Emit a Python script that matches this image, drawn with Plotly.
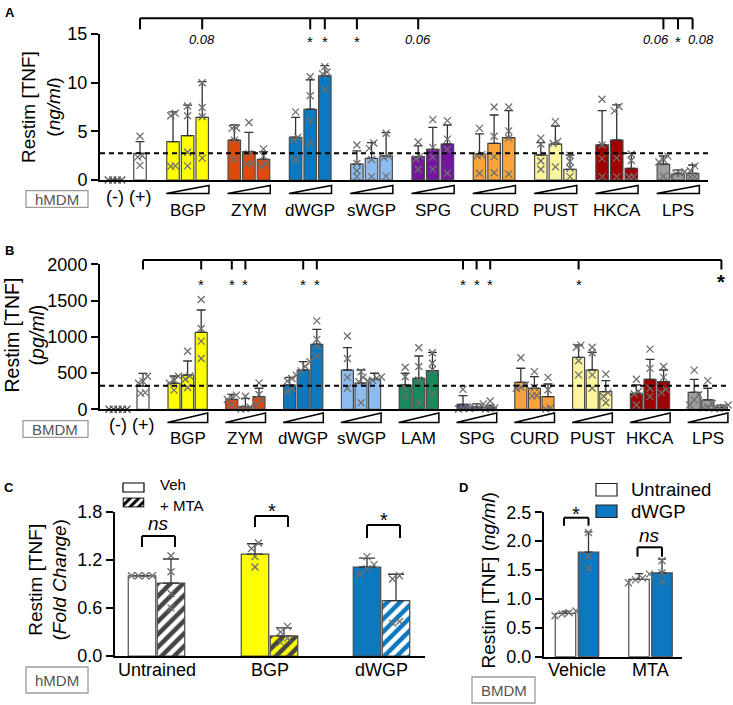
import plotly.graph_objects as go

W, H = 733, 705
FONT = "Liberation Sans, Arial, Helvetica, sans-serif"
PTCOL = "#6e6e6e"
NEGCOL = "#555555"
ERRCOL = "#333333"
EDGE = "#4a4a4a"

# ======================= DATA =======================
# ---- Panel A : hMDM, Restim TNF (ng/ml)
A_groups = ["BGP", "ZYM", "dWGP", "sWGP", "SPG", "CURD", "PUST", "HKCA", "LPS"]
A_colors = ["#FFFF00", "#DD4A0B", "#0B78BF", "#8DBDF0", "#74169B",
            "#F9A33C", "#FCF59E", "#A00000", "#9E9E9E"]
A_ctrl_labels = ["(-)", "(+)"]
A_ctrl_means = [0.0, 2.74]
A_ctrl_err = [0.0, 1.20]
A_ctrl_points = [[0, 0, 0, 0], [4.5, 2.5, 2.35, 1.5]]
A_means = [
    [3.94, 4.55, 6.44],
    [4.11, 2.91, 2.12],
    [4.39, 7.27, 10.69],
    [1.64, 2.23, 2.47],
    [2.40, 3.15, 3.70],
    [2.67, 3.77, 4.35],
    [2.57, 3.70, 1.10],
    [3.60, 4.11, 1.20],
    [1.64, 0.62, 0.69],
]
A_err = [
    [3.06, 3.15, 3.66],
    [1.54, 1.99, 0.78],
    [2.05, 3.03, 1.06],
    [1.36, 1.61, 2.39],
    [1.10, 2.26, 1.95],
    [2.06, 2.91, 2.77],
    [1.27, 1.85, 1.47],
    [3.52, 3.60, 1.54],
    [0.83, 0.41, 0.85],
]
A_points = [
    [[6.6, 6.85, 1.45, 1.4], [7.6, 6.6, 2.85, 1.45], [10.0, 7.45, 6.5, 2.25]],
    [[5.3, 5.35, 4.1, 2.1], [5.9, 2.7, 1.7, 1.65], [3.2, 2.45, 1.7, 1.4]],
    [[7.0, 4.4, 4.15, 2.1], [10.6, 8.65, 6.1, 3.8], [11.65, 11.1, 10.9, 9.3]],
    [[3.6, 1.7, 0.95, 0.35], [3.8, 3.25, 2.1, 0.35], [4.8, 2.45, 2.3, 0.4]],
    [[3.9, 2.45, 2.15, 1.1], [6.2, 3.35, 2.35, 1.1], [6.1, 4.2, 3.15, 0.7]],
    [[5.3, 2.6, 2.5, 0.7], [7.5, 4.5, 2.4, 0.75], [7.5, 5.05, 4.3, 0.6]],
    [[4.3, 3.7, 1.95, 1.1], [6.0, 3.95, 3.75, 1.35], [2.55, 1.9, 1.2, 0.35]],
    [[8.3, 3.6, 2.2, 0.35], [7.55, 7.1, 2.25, 0.35], [2.65, 2.0, 0.35, 0.3]],
    [[2.45, 2.1, 1.85, 0.4], [0.85, 0.7, 0.68, 0.35], [1.45, 0.95, 0.35, 0.3]],
]
A_baseline = 2.75
A_yticks = [0, 5, 10, 15]
A_sig = [("BGP", 2, "0.08"), ("dWGP", 1, "*"), ("dWGP", 2, "*"), ("sWGP", 0, "*"),
         ("SPG", 0, "0.06"), ("LPS", 0, "0.06"), ("LPS", 1, "*"), ("LPS", 2, "0.08")]

# ---- Panel B : BMDM, Restim TNF (pg/ml)
B_groups = ["BGP", "ZYM", "dWGP", "sWGP", "LAM", "SPG", "CURD", "PUST", "HKCA", "LPS"]
B_colors = ["#FFFF00", "#DD4A0B", "#0B78BF", "#8DBDF0", "#17895B", "#283C8E",
            "#F9A33C", "#FCF59E", "#A00000", "#9E9E9E"]
B_ctrl_labels = ["(-)", "(+)"]
B_ctrl_means = [0.0, 321]
B_ctrl_err = [0.0, 175]
B_ctrl_points = [[0, 0, 0, 0, 0], [455, 385, 360, 230, 220]]
B_means = [
    [359, 473, 1062],
    [138, 36, 174],
    [335, 542, 897],
    [542, 360, 414],
    [335, 428, 533],
    [69, 36, 27],
    [372, 290, 174],
    [717, 542, 243],
    [219, 414, 381],
    [234, 129, 27],
]
B_err = [
    [100, 193, 308],
    [69, 116, 116],
    [106, 115, 206],
    [308, 182, 83],
    [162, 307, 253],
    [119, 40, 30],
    [194, 160, 175],
    [170, 244, 152],
    [116, 276, 161],
    [180, 161, 30],
]
B_points = [
    [[455, 405, 360, 265], [800, 460, 415, 300], [1515, 1115, 940, 700]],
    [[195, 165, 135, 60], [180, 30, 10, 5], [365, 205, 125, 60]],
    [[425, 390, 290, 245], [655, 590, 530, 470], [1220, 965, 875, 735]],
    [[1010, 700, 440, 290], [520, 440, 380, 90], [445, 430, 400, 390]],
    [[580, 450, 300, 175], [850, 590, 405, 90], [780, 635, 545, 210]],
    [[275, 30, 10, 5], [75, 30, 20, 10], [115, 20, 10, 5]],
    [[710, 335, 305, 290], [520, 300, 190, 185], [440, 270, 20, 5]],
    [[885, 855, 670, 475], [855, 780, 475, 290], [485, 230, 180, 90]],
    [[415, 250, 210, 60], [830, 565, 290, 175], [590, 440, 275, 230]],
    [[540, 200, 130, 60], [395, 80, 30, 20], [60, 25, 15, 10]],
]
B_baseline = 325
B_yticks = [0, 500, 1000, 1500, 2000]
B_sig = [("BGP", 2, "*"), ("ZYM", 0, "*"), ("ZYM", 1, "*"), ("dWGP", 1, "*"),
         ("dWGP", 2, "*"), ("SPG", 0, "*"), ("SPG", 1, "*"), ("SPG", 2, "*"),
         ("PUST", 0, "*"), ("LPS", 2, "*")]

# ---- Panel C : hMDM, fold change, Veh vs + MTA
C_groups = ["Untrained", "BGP", "dWGP"]
C_colors = ["#FFFFFF", "#FFFF00", "#0B78BF"]
C_veh_mean = [1.00, 1.27, 1.11]
C_veh_err = [0.0, 0.13, 0.11]
C_mta_mean = [0.91, 0.25, 0.69]
C_mta_err = [0.30, 0.10, 0.33]
C_veh_pts = [[1.0, 1.0, 1.0, 1.0], [1.41, 1.34, 1.24, 1.11], [1.24, 1.14, 1.09, 1.02]]
C_mta_pts = [[1.25, 1.05, 0.78, 0.60], [0.37, 0.30, 0.22, 0.17], [1.0, 0.96, 0.43, 0.41]]
C_sig = ["ns", "*", "*"]
C_yticks = [0.0, 0.6, 1.2, 1.8]
C_legend = ["Veh", "+ MTA"]

# ---- Panel D : BMDM, ng/ml, Untrained vs dWGP
D_groups = ["Vehicle", "MTA"]
D_colors = ["#FFFFFF", "#0B78BF"]
D_untr_mean = [0.75, 1.34]
D_untr_err = [0.04, 0.10]
D_dwgp_mean = [1.81, 1.45]
D_dwgp_err = [0.35, 0.24]
D_untr_pts = [[0.79, 0.76, 0.74, 0.71], [1.43, 1.36, 1.33, 1.28]]
D_dwgp_pts = [[2.15, 1.74, 1.53], [1.66, 1.45, 1.30]]
D_sig = ["*", "ns"]
D_yticks = [0.0, 0.5, 1.0, 1.5, 2.0, 2.5]
D_legend = ["Untrained", "dWGP"]

# ======================= HELPERS =======================
def px(x):
    return x / W


def py(y):
    return 1 - y / H


fig = go.Figure()
shapes = []
annotations = []


def ann(x, y, text, size=17, xref="paper", yref="paper", color="black",
        xanchor="center", yanchor="middle", **kw):
    d = dict(x=x, y=y, text=text, xref=xref, yref=yref, showarrow=False,
             font=dict(family=FONT, size=size, color=color),
             xanchor=xanchor, yanchor=yanchor)
    d.update(kw)
    annotations.append(d)


def line(x0, y0, x1, y1, xref="paper", width=2, color="black", dash=None, yref="paper"):
    d = dict(type="line", x0=x0, y0=y0, x1=x1, y1=y1, xref=xref, yref=yref,
             line=dict(color=color, width=width))
    if dash:
        d["line"]["dash"] = dash
    shapes.append(d)


def jitter(vals, thresh, spread):
    order = sorted(range(len(vals)), key=lambda k: vals[k])
    offs = [0.0] * len(vals)
    clusters, cur = [], [order[0]]
    for k in order[1:]:
        if vals[k] - vals[cur[-1]] < thresh:
            cur.append(k)
        else:
            clusters.append(cur)
            cur = [k]
    clusters.append(cur)
    for cl in clusters:
        n = len(cl)
        for j, k in enumerate(cl):
            offs[k] = (j - (n - 1) / 2) * spread
    return offs


HATCH = dict(shape="/", fgcolor="black", fgopacity=1, size=9, solidity=0.5,
             fillmode="overlay")


def add_bars(xa, ya, xs, ys, es, cs, bw, capw, pattern=None):
    marker = dict(color=cs, line=dict(color=EDGE, width=1.2))
    if pattern:
        marker["pattern"] = pattern
    fig.add_trace(go.Bar(
        x=xs, y=ys, width=bw, marker=marker, xaxis=xa, yaxis=ya,
        error_y=dict(type="data", symmetric=False, array=es, arrayminus=[0] * len(es),
                     color=ERRCOL, thickness=1.3, width=capw),
        showlegend=False, hoverinfo="skip"))


def add_points(xa, ya, sx, sy, sc, size=7):
    fig.add_trace(go.Scatter(
        x=sx, y=sy, mode="markers", xaxis=xa, yaxis=ya, cliponaxis=False,
        marker=dict(symbol="x-thin", size=size, color=sc, line=dict(color=sc, width=1.3)),
        showlegend=False, hoverinfo="skip"))


def dose_panel(xa, ya, ctrl_x, ctrl_means, ctrl_err, ctrl_pts, groups, colors,
               means, errs, pts, first, gap, step, bw, thresh, spread):
    xs, ys, es, cs = [], [], [], []
    sx, sy, sc = [], [], []
    centers = {}
    for i in range(len(ctrl_x)):
        xs.append(ctrl_x[i]); ys.append(ctrl_means[i]); es.append(ctrl_err[i])
        cs.append("#FFFFFF")
        for v, o in zip(ctrl_pts[i], jitter(ctrl_pts[i], thresh, spread)):
            sx.append(ctrl_x[i] + o); sy.append(v)
            sc.append(NEGCOL if i == 0 else PTCOL)
    for g, name in enumerate(groups):
        for d in range(3):
            cx = first + g * gap + d * step
            centers[(name, d)] = cx
            xs.append(cx); ys.append(means[g][d]); es.append(errs[g][d])
            cs.append(colors[g])
            p = pts[g][d]
            for v, o in zip(p, jitter(p, thresh, spread)):
                sx.append(cx + o); sy.append(v); sc.append(PTCOL)
    add_bars(xa, ya, xs, ys, es, cs, bw, 4.5)
    add_points(xa, ya, sx, sy, sc)
    return centers


# ======================= PANEL A =======================
A_ctrl_x = [115, 140]
A_first, A_gap, A_step, A_bw = 173, 61.3, 14.6, 12.5
cA = dose_panel("x", "y", A_ctrl_x, A_ctrl_means, A_ctrl_err, A_ctrl_points,
                A_groups, A_colors, A_means, A_err, A_points,
                A_first, A_gap, A_step, A_bw, 0.55, 4.5)

# ======================= PANEL B =======================
B_ctrl_x = [118, 143]
B_first, B_gap, B_step, B_bw = 174, 57.8, 13.6, 12
cB = dose_panel("x2", "y2", B_ctrl_x, B_ctrl_means, B_ctrl_err, B_ctrl_points,
                B_groups, B_colors, B_means, B_err, B_points,
                B_first, B_gap, B_step, B_bw, 75, 4.5)

# ======================= PANEL C =======================
C_centers = [156.5, 269.5, 381.5]
C_off, C_bw = 14.5, 27.5
veh_x = [c - C_off for c in C_centers]
mta_x = [c + C_off for c in C_centers]
add_bars("x3", "y3", veh_x, C_veh_mean, C_veh_err, C_colors, C_bw, 8)
add_bars("x3", "y3", mta_x, C_mta_mean, C_mta_err, C_colors, C_bw, 8, pattern=HATCH)
sx, sy = [], []
for xs_, pts_ in ((veh_x, C_veh_pts), (mta_x, C_mta_pts)):
    for cx, p in zip(xs_, pts_):
        for v, o in zip(p, jitter(p, 0.075, 7)):
            sx.append(cx + o); sy.append(v)
add_points("x3", "y3", sx, sy, PTCOL)

# ======================= PANEL D =======================
D_centers = [577, 650.5]
D_off, D_bw = 11.5, 20.5
untr_x = [c - D_off for c in D_centers]
dwgp_x = [c + D_off for c in D_centers]
add_bars("x4", "y4", untr_x, D_untr_mean, D_untr_err, [D_colors[0]] * 2, D_bw, 4)
add_bars("x4", "y4", dwgp_x, D_dwgp_mean, D_dwgp_err, [D_colors[1]] * 2, D_bw, 4)
sx, sy = [], []
for xs_, pts_ in ((untr_x, D_untr_pts), (dwgp_x, D_dwgp_pts)):
    for cx, p in zip(xs_, pts_):
        for v, o in zip(p, jitter(p, 0.1, 7)):
            sx.append(cx + o); sy.append(v)
add_points("x4", "y4", sx, sy, PTCOL)

# legend swatch for hatched "+ MTA" (panel C)
fig.add_trace(go.Bar(
    x=[1], y=[0], orientation="h", width=1, xaxis="x5", yaxis="y5",
    marker=dict(color="#FFFFFF", line=dict(color="black", width=1.2),
                pattern=dict(HATCH, size=6)),
    showlegend=False, hoverinfo="skip"))

# ======================= DECORATIONS =======================
line(0, A_baseline, 1, A_baseline, xref="x domain", yref="y", width=1.8, dash="5px,4px")
line(0, B_baseline, 1, B_baseline, xref="x2 domain", yref="y2", width=1.8, dash="5px,4px")


def ramps(centers, groups, xref, bw, ytop, ybot, ylab, size):
    for name in groups:
        x0 = centers[(name, 0)] - bw / 2 - 0.5
        x1 = centers[(name, 2)] + bw / 2 + 0.5
        shapes.append(dict(type="path", xref=xref, yref="paper",
                           path=f"M {x0},{py(ybot)} L {x1},{py(ytop)} L {x1},{py(ybot)} Z",
                           line=dict(color="black", width=1.5), fillcolor="white"))
        ann(centers[(name, 1)], py(ylab), name, size=size, xref=xref)


ramps(cA, A_groups, "x", A_bw, 185.5, 193.5, 210, 17)
ramps(cB, B_groups, "x2", B_bw, 413, 422.5, 438, 17)
for cx, lab in zip(A_ctrl_x, A_ctrl_labels):
    ann(cx, py(197), lab, size=18, xref="x")
for cx, lab in zip(B_ctrl_x, B_ctrl_labels):
    ann(cx, py(425), lab, size=18, xref="x2")


def sig_bracket(centers, sig, left_x, xref, ytop, yleg):
    right = max(centers[(s[0], s[1])] for s in sig)
    line(left_x, py(ytop), right, py(ytop), xref=xref)
    line(left_x, py(ytop), left_x, py(yleg), xref=xref)
    for name, d, lab in sig:
        cx = centers[(name, d)]
        line(cx, py(ytop), cx, py(yleg), xref=xref)


sig_bracket(cA, A_sig, A_ctrl_x[1], "x", 18.3, 29.3)
for name, d, lab in A_sig:
    cx = cA[(name, d)]
    if lab == "*":
        ann(cx, py(41.5), "*", size=15, xref="x")
    else:
        shift = 0
        if name == "LPS" and d == 0:
            shift = -7
        if name == "LPS" and d == 2:
            shift = 8
        ann(cx, py(39.5), f"<i>{lab}</i>", size=13, xref="x", xshift=shift)

sig_bracket(cB, B_sig, B_ctrl_x[1], "x2", 260, 269.5)
for name, d, lab in B_sig:
    cx = cB[(name, d)]
    last = (name == B_sig[-1][0] and d == B_sig[-1][1])
    if last:
        ann(cx, py(282), "<b>*</b>", size=20, xref="x2")
    else:
        ann(cx, py(284), "*", size=15, xref="x2")

# Panel C brackets
C_br = [(536, 547, 523.5), (516, 527, 511), (525, 538, 520)]
for i, (yb, yl, yt) in enumerate(C_br):
    x0 = veh_x[i]
    x1 = mta_x[i] + 4
    line(x0, py(yb), x1, py(yb), xref="x3")
    line(x0, py(yb), x0, py(yl), xref="x3")
    line(x1, py(yb), x1, py(yl), xref="x3")
    txt = "<i>ns</i>" if C_sig[i] == "ns" else "*"
    ann((x0 + x1) / 2, py(yt), txt, size=19 if C_sig[i] == "ns" else 20, xref="x3")
for cx, lab in zip(C_centers, C_groups):
    ann(cx, py(670), lab, size=18, xref="x3")

# Panel D brackets
D_br = [(517.7, 525.7, 514), (547.3, 556.7, 535.5)]
for i, (yb, yl, yt) in enumerate(D_br):
    x0 = untr_x[i] - 1.5
    x1 = dwgp_x[i]
    line(x0, py(yb), x1, py(yb), xref="x4")
    line(x0, py(yb), x0, py(yl), xref="x4")
    line(x1, py(yb), x1, py(yl), xref="x4")
    txt = "<i>ns</i>" if D_sig[i] == "ns" else "*"
    ann((x0 + x1) / 2, py(yt), txt, size=19 if D_sig[i] == "ns" else 20, xref="x4")
for cx, lab in zip(D_centers, D_groups):
    ann(cx, py(670), lab, size=18, xref="x4")

# Legends
shapes.append(dict(type="rect", xref="paper", yref="paper", x0=px(123), x1=px(144),
                   y0=py(492), y1=py(483), line=dict(color="black", width=1.2),
                   fillcolor="white"))
ann(px(158), py(495), C_legend[0], size=15, xanchor="left", yanchor="bottom")
ann(px(158), py(495), C_legend[1], size=15, xanchor="left", yanchor="top")
shapes.append(dict(type="rect", xref="paper", yref="paper", x0=px(596), x1=px(617),
                   y0=py(496), y1=py(483.5), line=dict(color="#222", width=1.2),
                   fillcolor=D_colors[0]))
shapes.append(dict(type="rect", xref="paper", yref="paper", x0=px(596), x1=px(617),
                   y0=py(517.5), y1=py(505), line=dict(color="#222", width=1.2),
                   fillcolor=D_colors[1]))
ann(px(629), py(489.5), D_legend[0], size=18.5, xanchor="left")
ann(px(629), py(511.5), D_legend[1], size=18.5, xanchor="left")

# cell-type boxes
for (x0, y0, x1, y1, txt) in [(26, 190.7, 88, 207.3, "hMDM"), (23, 420.7, 88, 437.3, "BMDM"),
                              (26, 667, 88, 693, "hMDM"), (472, 677, 535, 703, "BMDM")]:
    shapes.append(dict(type="rect", xref="paper", yref="paper", x0=px(x0), x1=px(x1),
                       y0=py(y1), y1=py(y0), line=dict(color="#9a9a9a", width=1.3)))
    ann(px((x0 + x1) / 2), py((y0 + y1) / 2), txt, size=15, color="#555555")

# y-axis titles
ann(px(41), py(107), "Restim [TNF]<br>(<i>ng/ml</i>)", size=19, textangle=-90)
ann(px(23.5), py(335), "Restim [TNF]<br>(<i>pg/ml</i>)", size=19.5, textangle=-90)
ann(px(47.5), py(580), "Restim [TNF]<br>(<i>Fold Change</i>)", size=19, textangle=-90)
ann(px(487.5), py(581), "Restim [TNF] (<i>ng/ml</i>)", size=19, textangle=-90)

# panel letters
for (x, y, t) in [(10, 12, "A"), (9, 251, "B"), (9, 487, "C"), (463, 487, "D")]:
    ann(px(x), py(y), f"<b>{t}</b>", size=13)

# ======================= AXES =======================
def xax(d0, d1, r, anchor):
    return dict(domain=[px(d0), px(d1)], range=r, anchor=anchor, showline=True,
                linecolor="black", linewidth=2, ticks="", showticklabels=False,
                showgrid=False, zeroline=False, fixedrange=True, automargin=False)


def yax(d_bot, d_top, r, tickvals, anchor, fmt=None, size=18):
    d = dict(domain=[py(d_bot), py(d_top)], range=r, anchor=anchor, showline=True,
             linecolor="black", linewidth=2, ticks="outside", ticklen=7, tickwidth=2,
             tickcolor="black", tickvals=tickvals, showgrid=False, zeroline=False,
             tickfont=dict(family=FONT, size=size, color="black"), fixedrange=True,
             automargin=False)
    if fmt:
        d["tickformat"] = fmt
    return d


fig.update_layout(
    template="none",
    width=W, height=H, margin=dict(l=0, r=0, t=0, b=0, pad=0, autoexpand=False),
    autosize=False,
    paper_bgcolor="white", plot_bgcolor="rgba(0,0,0,0)",
    barmode="overlay", showlegend=False,
    font=dict(family=FONT, color="black"),
    xaxis=xax(100, 708, [100, 708], "y"),
    yaxis=yax(180, 34, [0, 15], A_yticks, "x"),
    xaxis2=xax(100, 730, [100, 730], "y2"),
    yaxis2=yax(409.3, 264.3, [0, 2000], B_yticks, "x2"),
    xaxis3=xax(115, 425, [115, 425], "y3"),
    yaxis3=yax(656, 511.7, [0, 1.8], C_yticks, "x3", fmt=".1f"),
    xaxis4=xax(544, 682, [544, 682], "y4"),
    yaxis4=yax(656.7, 512.3, [0, 2.5], D_yticks, "x4", fmt=".1f"),
    xaxis5=dict(domain=[px(122.5), px(144.5)], range=[-0.03, 1.03], visible=False,
                anchor="y5", fixedrange=True),
    yaxis5=dict(domain=[py(507.5), py(497.5)], range=[-0.55, 0.55], visible=False,
                anchor="x5", fixedrange=True),
    shapes=shapes, annotations=annotations,
)

fig.write_html(
    "out.html",
    config={"responsive": False, "displayModeBar": False},
    post_script="document.body.style.margin='0';document.body.style.overflow='hidden';"
                "document.documentElement.style.overflow='hidden';",
)
